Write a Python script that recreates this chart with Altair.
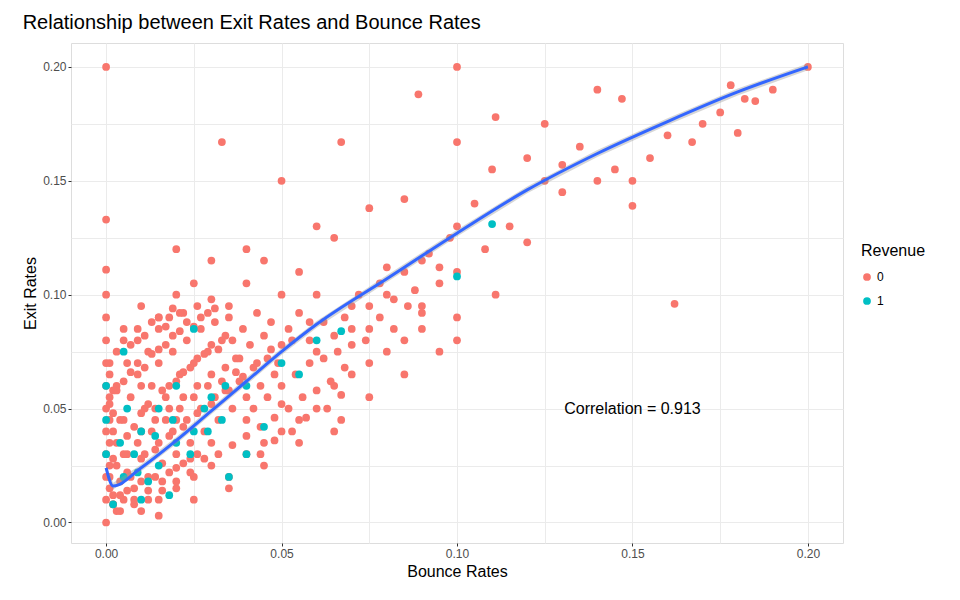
import altair as alt
import pandas as pd

# revenue = 0 points (bounce, exit)
x0 = [0, 0.1, 0.089, 0.2, 0.178, 0.182, 0.18, 0.162, 0.033, 0.067, 0.1, 0.1, 0.111, 0.0, 0.0, 0.0, 0.02, 0.04,
      0.05, 0.067, 0.15, 0.15, 0.167, 0.14, 0.13, 0.12, 0.125, 0.147, 0.14, 0.111, 0.11, 0.12, 0.085, 0.075,
      0.06, 0.065, 0.08, 0.09, 0.095, 0.1, 0.1, 0.1, 0.105, 0.115, 0.13, 0.155, 0.16, 0.17, 0.175, 0.185,
      0.19, 0.135, 0.125, 0.145, 0.108, 0.09, 0.08, 0.07, 0.075, 0.06, 0.055, 0.05, 0.045, 0.04, 0.035,
      0.03, 0.025, 0.02, 0.015, 0.01, 0.005, 0, 0, 0, 0, 0, 0, 0, 0, 0, 0, 0.003, 0.005, 0.01, 0.015,
      0.02, 0.025, 0.03, 0.035, 0.04, 0.045, 0.05, 0.055, 0.06, 0.065, 0.07, 0.075, 0.08, 0.085, 0.09,
      0.002, 0.004, 0.006, 0.008, 0.010, 0.012, 0.014, 0.016, 0.018, 0.020, 0.022, 0.024, 0.026, 0.028,
      0.030, 0.032, 0.034, 0.036, 0.038, 0.040, 0.042, 0.044, 0.046, 0.048, 0.050, 0.003, 0.005, 0.007,
      0.009, 0.011, 0.013, 0.015, 0.017, 0.019, 0.021, 0.023, 0.025, 0.027, 0.029, 0.031, 0.033, 0.035,
      0.037, 0.039, 0.041, 0.043, 0.045, 0.047, 0.049, 0.052, 0.055, 0.058, 0.060, 0.062, 0.065, 0.068,
      0.070, 0.072, 0.075, 0.078, 0.082, 0.085, 0.088, 0.092, 0.095, 0.098, 0.004, 0.008, 0.012, 0.016,
      0.020, 0.024, 0.028, 0.032, 0.036, 0.040, 0.044, 0.048, 0.052, 0.056, 0.060, 0.064, 0.068, 0.006,
      0.010, 0.014, 0.018, 0.022, 0.026, 0.030, 0.034, 0.038, 0.042, 0.046, 0.050, 0.054, 0.058, 0.062,
      0.066, 0.070, 0.074, 0.078, 0.082, 0.086, 0.090, 0.003, 0.006, 0.009, 0.012, 0.015, 0.018, 0.022,
      0.026, 0.030, 0.010, 0.020, 0.030, 0.040, 0.050, 0.015, 0.025, 0.035, 0.045, 0.055, 0.065, 0.075,
      0.085, 0.095,
      # dense core
      0.001, 0.003, 0.005, 0.007, 0.009, 0.011, 0.013, 0.015, 0.017, 0.019, 0.021, 0.023, 0.025, 0.027,
      0.029, 0.031, 0.033, 0.035, 0.037, 0.039, 0.002, 0.004, 0.006, 0.008, 0.010, 0.012, 0.014, 0.016,
      0.018, 0.020, 0.022, 0.024, 0.026, 0.028, 0.030, 0.032, 0.034, 0.036, 0.001, 0.003, 0.005, 0.007,
      0.009, 0.011, 0.013, 0.015, 0.017, 0.019, 0.021, 0.023, 0.025, 0.027, 0.029, 0.031, 0.002, 0.004,
      0.006, 0.008, 0.010, 0.012, 0.014, 0.016, 0.018, 0.020, 0.022, 0.024, 0.026, 0.001, 0.003, 0.005,
      0.007, 0.009, 0.011, 0.013, 0.015, 0.017, 0.019, 0.021, 0.001, 0.001, 0.001, 0.001, 0.001, 0.001,
      0.002, 0.002, 0.002, 0.002, 0.044, 0.048, 0.053, 0.057, 0.063, 0.067, 0.043, 0.047, 0.053, 0.058]
y0 = [0.2, 0.2, 0.188, 0.2, 0.192, 0.186, 0.171, 0.096, 0.167, 0.167, 0.167, 0.08, 0.1, 0.133, 0.1, 0.111, 0.12, 0.12,
      0.15, 0.045, 0.139, 0.15, 0.167, 0.15, 0.157, 0.123, 0.175, 0.186, 0.19, 0.178, 0.155, 0.16, 0.142, 0.138,
      0.13, 0.125, 0.112, 0.115, 0.105, 0.09, 0.11, 0.13, 0.14, 0.13, 0.145, 0.16, 0.17, 0.175, 0.18, 0.185,
      0.19, 0.165, 0.15, 0.155, 0.12, 0.095, 0.1, 0.095, 0.085, 0.1, 0.11, 0.1, 0.115, 0.105, 0.095,
      0.115, 0.105, 0.1, 0.09, 0.095, 0.085, 0.09, 0.08, 0.07, 0.06, 0.05, 0.04, 0.03, 0.02, 0.01, 0.0, 0.005, 0.01, 0.005, 0.01,
      0.015, 0.02, 0.025, 0.02, 0.03, 0.035, 0.04, 0.045, 0.05, 0.06, 0.065, 0.07, 0.075, 0.08, 0.085,
      0.012, 0.018, 0.022, 0.015, 0.028, 0.020, 0.032, 0.026, 0.038, 0.030, 0.042, 0.035, 0.048, 0.040,
      0.052, 0.045, 0.058, 0.050, 0.062, 0.055, 0.068, 0.060, 0.072, 0.065, 0.078, 0.035, 0.045, 0.055,
      0.065, 0.050, 0.060, 0.070, 0.055, 0.075, 0.065, 0.080, 0.070, 0.085, 0.075, 0.088, 0.080, 0.090,
      0.072, 0.085, 0.078, 0.092, 0.082, 0.088, 0.070, 0.085, 0.092, 0.080, 0.075, 0.088, 0.082, 0.090,
      0.078, 0.100, 0.095, 0.105, 0.098, 0.110, 0.102, 0.118, 0.112, 0.125, 0.005, 0.008, 0.010, 0.014,
      0.018, 0.022, 0.028, 0.030, 0.034, 0.038, 0.042, 0.046, 0.050, 0.055, 0.058, 0.062, 0.068, 0.030,
      0.040, 0.045, 0.050, 0.055, 0.060, 0.065, 0.068, 0.072, 0.050, 0.055, 0.060, 0.065, 0.070, 0.072,
      0.075, 0.085, 0.080, 0.090, 0.085, 0.095, 0.092, 0.060, 0.070, 0.080, 0.075, 0.085, 0.090, 0.092,
      0.095, 0.098, 0.060, 0.045, 0.035, 0.045, 0.052, 0.003, 0.010, 0.015, 0.025, 0.035, 0.040, 0.055,
      0.065, 0.075,
      # dense core
      0.020, 0.025, 0.030, 0.020, 0.035, 0.030, 0.040, 0.035, 0.045, 0.040, 0.050, 0.045, 0.055, 0.050,
      0.060, 0.055, 0.062, 0.058, 0.066, 0.064, 0.040, 0.045, 0.038, 0.042, 0.048, 0.052, 0.050, 0.058,
      0.060, 0.062, 0.066, 0.068, 0.072, 0.074, 0.078, 0.076, 0.082, 0.080, 0.052, 0.058, 0.062, 0.066,
      0.070, 0.068, 0.074, 0.076, 0.078, 0.082, 0.084, 0.088, 0.086, 0.090, 0.092, 0.094, 0.008, 0.012,
      0.014, 0.010, 0.018, 0.014, 0.020, 0.018, 0.022, 0.024, 0.026, 0.028, 0.030, 0.070, 0.075, 0.080,
      0.078, 0.085, 0.082, 0.088, 0.090, 0.086, 0.094, 0.092, 0.015, 0.025, 0.035, 0.045, 0.055, 0.065,
      0.008, 0.028, 0.048, 0.058, 0.030, 0.036, 0.040, 0.046, 0.050, 0.056, 0.070, 0.076, 0.080, 0.088]

# revenue = 1 points
x1 = [0, 0, 0, 0.005, 0.005, 0.01, 0.01, 0.015, 0.015, 0.02, 0.02, 0.025, 0.03, 0.033, 0.035, 0.04, 0.04,
      0.045, 0.05, 0.055, 0.067, 0.06, 0.1, 0.11, 0.025, 0.002, 0.008, 0.012, 0.018, 0.028, 0.006,
      0.004, 0.009, 0.014, 0.019, 0.024, 0.029, 0.034]
y1 = [0.03, 0.045, 0.06, 0.075, 0.02, 0.04, 0.01, 0.05, 0.025, 0.035, 0.06, 0.04, 0.055, 0.045, 0.02, 0.06, 0.03,
      0.042, 0.07, 0.065, 0.084, 0.08, 0.108, 0.131, 0.085, 0.008, 0.03, 0.018, 0.012, 0.05, 0.05,
      0.035, 0.022, 0.038, 0.045, 0.03, 0.04, 0.06]

# smooth fit
sx = [0, 0.002, 0.01, 0.02, 0.03, 0.04, 0.05, 0.06, 0.08, 0.10, 0.12, 0.14, 0.16, 0.18, 0.20]
sy = [0.024, 0.016, 0.024, 0.036, 0.049, 0.062, 0.075, 0.087, 0.107, 0.127, 0.146, 0.162, 0.176, 0.189, 0.200]

pts = pd.concat([
    pd.DataFrame({"x": x0, "y": y0, "Revenue": "0"}),
    pd.DataFrame({"x": x1, "y": y1, "Revenue": "1"}),
])
fit = pd.DataFrame({"x": sx, "y": sy})
fit["lo"] = fit["y"] - 0.0015
fit["hi"] = fit["y"] + 0.0015

xs = alt.Scale(domain=[-0.01, 0.21], nice=False, zero=False)
ys = alt.Scale(domain=[-0.009, 0.2105], nice=False, zero=False)
ticks = [0, 0.025, 0.05, 0.075, 0.1, 0.125, 0.15, 0.175, 0.2]
is_major = "abs(datum.value*40 - round(datum.value*40)) < 0.01 && round(datum.value*40) % 2 == 0"
lab = is_major + " ? format(datum.value, '.2f') : ''"


def make_axis(title):
    return alt.Axis(values=ticks, labelExpr=lab, title=title, gridColor="#ebebeb",
                    tickColor={"expr": is_major + " ? '#333333' : 'transparent'"}, tickSize=3,
                    domain=False, labelColor="#4d4d4d", labelFontSize=12, titleFontSize=16,
                    titleFontWeight="normal", titleColor="black")


points = alt.Chart(pts).mark_circle(size=60, opacity=1).encode(
    x=alt.X("x:Q", scale=xs, axis=make_axis("Bounce Rates")),
    y=alt.Y("y:Q", scale=ys, axis=make_axis("Exit Rates")),
    color=alt.Color("Revenue:N", scale=alt.Scale(domain=["0", "1"], range=["#F8766D", "#00BFC4"]),
                    legend=alt.Legend(titleFontSize=16, titleFontWeight="normal", labelFontSize=12,
                                      symbolSize=60, titlePadding=12, rowPadding=12,
                                      orient="none", legendX=790, legendY=200)),
)
band = alt.Chart(fit).mark_area(color="#999999", opacity=0.4).encode(
    x=alt.X("x:Q", scale=xs), y=alt.Y("lo:Q", scale=ys), y2="hi:Q")
line = alt.Chart(fit).mark_line(color="#3366FF", strokeWidth=3, interpolate="monotone").encode(
    x=alt.X("x:Q", scale=xs), y=alt.Y("y:Q", scale=ys))
note = alt.Chart(pd.DataFrame({"x": [0.15], "y": [0.05], "t": ["Correlation = 0.913"]})).mark_text(
    fontSize=16, color="black").encode(x=alt.X("x:Q", scale=xs), y=alt.Y("y:Q", scale=ys), text="t:N")

chart = (points + band + line + note).properties(
    width=772, height=500,
    padding={"left": 14, "top": 5, "right": 5, "bottom": 5},
    title=alt.Title("Relationship between Exit Rates and Bounce Rates", fontSize=20,
                    fontWeight="normal", anchor="start", offset=10),
).configure_view(stroke="#b3b3b3").configure(font="Liberation Sans")

chart.save("out.html", embed_options={"renderer": "svg", "actions": False})
